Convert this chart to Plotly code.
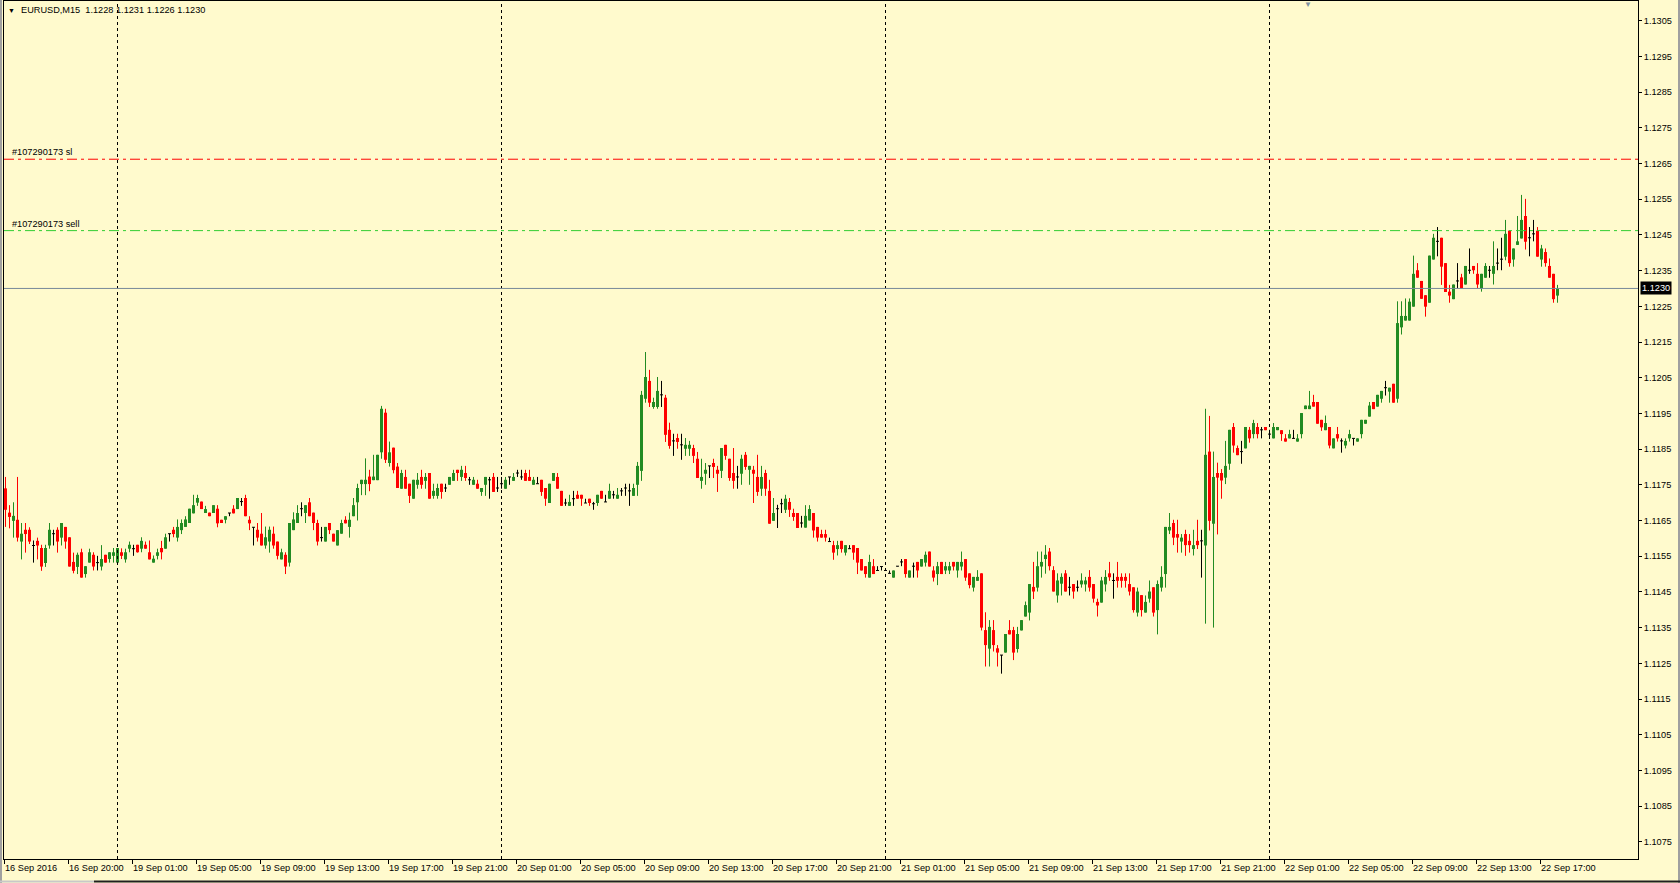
import plotly.graph_objects as go

# ---------------- data (EURUSD M15, one value per bar) ----------------
opens = [
1.11740,1.11672,1.11649,1.11652,1.11591,1.11624,1.11624,1.11580,1.11593,1.11573,
1.11531,1.11580,1.11613,1.11624,1.11602,1.11632,1.11603,1.11534,1.11520,1.11561,
1.11500,1.11532,1.11554,1.11532,1.11521,1.11554,1.11542,1.11551,1.11532,1.11561,
1.11541,1.11571,1.11571,1.11582,1.11571,1.11582,1.11561,1.11532,1.11551,1.11573,
1.11571,1.11613,1.11624,1.11602,1.11623,1.11632,1.11643,1.11670,1.11700,1.11703,
1.11671,1.11672,1.11671,1.11683,1.11652,1.11652,1.11671,1.11683,1.11682,1.11703,
1.11713,1.11652,1.11631,1.11624,1.11613,1.11580,1.11591,1.11613,1.11591,1.11541,
1.11554,1.11532,1.11623,1.11643,1.11683,1.11671,1.11701,1.11672,1.11643,1.11602,
1.11591,1.11643,1.11613,1.11580,1.11613,1.11652,1.11632,1.11662,1.11701,1.11752,
1.11752,1.11773,1.11763,1.11763,1.11841,1.11952,1.11811,1.11854,1.11801,1.11739,
1.11772,1.11753,1.11711,1.11750,1.11772,1.11761,1.11783,1.11719,1.11719,1.11753,
1.11741,1.11750,1.11761,1.11792,1.11772,1.11783,1.11764,1.11750,1.11753,1.11730,
1.11750,1.11764,1.11772,1.11741,1.11753,1.11739,1.11772,1.11761,1.11783,1.11772,
1.11783,1.11772,1.11750,1.11753,1.11764,1.11741,1.11699,1.11761,1.11772,1.11733,
1.11699,1.11691,1.11711,1.11722,1.11722,1.11699,1.11711,1.11697,1.11699,1.11733,
1.11702,1.11711,1.11722,1.11711,1.11733,1.11741,1.11733,1.11719,1.11750,1.11789,
1.11991,1.12041,1.11968,1.11968,1.12002,1.11994,1.11904,1.11873,1.11881,1.11862,
1.11851,1.11851,1.11853,1.11823,1.11761,1.11781,1.11803,1.11811,1.11792,1.11789,
1.11862,1.11823,1.11783,1.11772,1.11781,1.11834,1.11792,1.11792,1.11772,1.11739,
1.11783,1.11733,1.11649,1.11683,1.11697,1.11680,1.11702,1.11671,1.11671,1.11643,
1.11630,1.11650,1.11671,1.11632,1.11612,1.11612,1.11591,1.11581,1.11570,1.11593,
1.11560,1.11571,1.11581,1.11573,1.11542,1.11522,1.11490,1.11522,1.11510,1.11521,
1.11510,1.11502,1.11490,1.11522,1.11534,1.11542,1.11490,1.11522,1.11534,1.11521,
1.11532,1.11563,1.11510,1.11500,1.11534,1.11510,1.11510,1.11534,1.11510,1.11521,
1.11542,1.11502,1.11462,1.11481,1.11502,1.11343,1.11291,1.11343,1.11292,1.11273,
1.11280,1.11343,1.11343,1.11290,1.11342,1.11381,1.11392,1.11464,1.11462,1.11521,
1.11542,1.11563,1.11511,1.11440,1.11473,1.11502,1.11463,1.11472,1.11463,1.11471,
1.11471,1.11492,1.11472,1.11422,1.11420,1.11471,1.11502,1.11482,1.11492,1.11492,
1.11492,1.11472,1.11463,1.11392,1.11441,1.11392,1.11431,1.11463,1.11399,1.11462,
1.11500,1.11622,1.11643,1.11612,1.11591,1.11612,1.11593,1.11570,1.11593,1.11593,
1.11580,1.11843,1.11641,1.11783,1.11783,1.11770,1.11809,1.11912,1.11853,1.11843,
1.11852,1.11904,1.11892,1.11912,1.11904,1.11912,1.11892,1.11880,1.11903,1.11903,
1.11880,1.11880,1.11880,1.11871,1.11892,1.11962,1.11962,1.11982,1.11982,1.11932,
1.11903,1.11912,1.11852,1.11892,1.11873,1.11860,1.11880,1.11880,1.11871,1.11892,
1.11921,1.11941,1.11982,1.11969,1.11991,1.12022,1.12011,1.12033,1.11991,1.12191,
1.12210,1.12210,1.12249,1.12351,1.12321,1.12281,1.12260,1.12381,1.12432,1.12442,
1.12371,1.12291,1.12270,1.12321,1.12331,1.12311,1.12351,1.12363,1.12341,1.12301,
1.12330,1.12351,1.12341,1.12371,1.12382,1.12389,1.12462,1.12381,1.12422,1.12440,
1.12503,1.12442,1.12453,1.12462,1.12381,1.12402,1.12363,1.12341,1.12280,
]

highs = [
1.11772,1.11693,1.11701,1.11772,1.11643,1.11643,1.11631,1.11594,1.11602,1.11582,
1.11582,1.11643,1.11624,1.11631,1.11643,1.11632,1.11603,1.11560,1.11560,1.11571,
1.11522,1.11571,1.11561,1.11551,1.11581,1.11554,1.11561,1.11573,1.11573,1.11572,
1.11571,1.11591,1.11582,1.11582,1.11603,1.11591,1.11594,1.11552,1.11571,1.11593,
1.11613,1.11613,1.11632,1.11653,1.11653,1.11662,1.11683,1.11722,1.11722,1.11703,
1.11691,1.11672,1.11693,1.11693,1.11652,1.11662,1.11671,1.11693,1.11713,1.11713,
1.11722,1.11662,1.11631,1.11643,1.11671,1.11633,1.11633,1.11633,1.11591,1.11571,
1.11561,1.11643,1.11673,1.11693,1.11701,1.11693,1.11713,1.11672,1.11652,1.11632,
1.11632,1.11643,1.11613,1.11623,1.11652,1.11662,1.11672,1.11713,1.11753,1.11764,
1.11824,1.11792,1.11834,1.11834,1.11971,1.11963,1.11871,1.11854,1.11811,1.11792,
1.11792,1.11753,1.11764,1.11783,1.11792,1.11783,1.11783,1.11753,1.11753,1.11753,
1.11753,1.11772,1.11792,1.11792,1.11803,1.11803,1.11772,1.11772,1.11764,1.11741,
1.11772,1.11772,1.11783,1.11772,1.11772,1.11772,1.11772,1.11783,1.11792,1.11792,
1.11792,1.11792,1.11772,1.11772,1.11764,1.11741,1.11753,1.11783,1.11783,1.11733,
1.11711,1.11722,1.11733,1.11733,1.11722,1.11711,1.11711,1.11702,1.11722,1.11733,
1.11722,1.11753,1.11733,1.11741,1.11741,1.11753,1.11753,1.11753,1.11814,1.12013,
1.12122,1.12072,1.11994,1.12052,1.12041,1.12002,1.11924,1.11893,1.11893,1.11893,
1.11881,1.11873,1.11862,1.11842,1.11823,1.11811,1.11803,1.11823,1.11803,1.11853,
1.11862,1.11823,1.11853,1.11803,1.11834,1.11842,1.11803,1.11803,1.11834,1.11803,
1.11792,1.11764,1.11713,1.11694,1.11711,1.11722,1.11713,1.11683,1.11671,1.11663,
1.11693,1.11693,1.11671,1.11632,1.11624,1.11624,1.11602,1.11593,1.11593,1.11593,
1.11581,1.11581,1.11581,1.11573,1.11542,1.11522,1.11554,1.11542,1.11522,1.11521,
1.11510,1.11510,1.11510,1.11522,1.11542,1.11542,1.11510,1.11532,1.11534,1.11542,
1.11563,1.11563,1.11522,1.11534,1.11534,1.11534,1.11534,1.11534,1.11534,1.11563,
1.11542,1.11502,1.11492,1.11511,1.11502,1.11393,1.11371,1.11371,1.11301,1.11273,
1.11332,1.11371,1.11352,1.11352,1.11371,1.11423,1.11472,1.11534,1.11563,1.11563,
1.11581,1.11573,1.11522,1.11502,1.11502,1.11511,1.11492,1.11472,1.11482,1.11502,
1.11492,1.11511,1.11472,1.11431,1.11492,1.11511,1.11534,1.11502,1.11534,1.11502,
1.11502,1.11502,1.11463,1.11462,1.11441,1.11440,1.11482,1.11463,1.11482,1.11522,
1.11632,1.11671,1.11652,1.11652,1.11612,1.11624,1.11612,1.11624,1.11652,1.11624,
1.11963,1.11943,1.11843,1.11812,1.11794,1.11873,1.11904,1.11923,1.11860,1.11873,
1.11912,1.11912,1.11932,1.11923,1.11912,1.11912,1.11904,1.11923,1.11912,1.11903,
1.11892,1.11904,1.11904,1.11892,1.11951,1.11972,1.12013,1.12002,1.11982,1.11932,
1.11944,1.11912,1.11880,1.11912,1.11880,1.11880,1.11904,1.11880,1.11880,1.11932,
1.11932,1.11982,1.11982,1.12002,1.12013,1.12041,1.12022,1.12033,1.12264,1.12264,
1.12272,1.12272,1.12392,1.12371,1.12321,1.12281,1.12392,1.12453,1.12472,1.12442,
1.12371,1.12310,1.12311,1.12371,1.12341,1.12363,1.12412,1.12363,1.12371,1.12341,
1.12371,1.12363,1.12432,1.12412,1.12442,1.12492,1.12462,1.12412,1.12503,1.12562,
1.12551,1.12472,1.12492,1.12472,1.12422,1.12412,1.12384,1.12341,1.12310,
]

lows = [
1.11632,1.11628,1.11602,1.11591,1.11541,1.11560,1.11584,1.11532,1.11541,1.11509,
1.11520,1.11571,1.11580,1.11560,1.11580,1.11571,1.11521,1.11502,1.11500,1.11490,
1.11490,1.11532,1.11510,1.11510,1.11510,1.11532,1.11532,1.11532,1.11532,1.11542,
1.11532,1.11561,1.11551,1.11560,1.11561,1.11571,1.11541,1.11532,1.11541,1.11541,
1.11571,1.11591,1.11603,1.11591,1.11612,1.11632,1.11643,1.11670,1.11691,1.11682,
1.11671,1.11662,1.11671,1.11631,1.11643,1.11642,1.11662,1.11670,1.11682,1.11691,
1.11662,1.11623,1.11580,1.11591,1.11580,1.11571,1.11560,1.11571,1.11541,1.11541,
1.11500,1.11521,1.11623,1.11643,1.11662,1.11643,1.11662,1.11623,1.11580,1.11591,
1.11591,1.11612,1.11591,1.11580,1.11613,1.11642,1.11602,1.11662,1.11650,1.11721,
1.11721,1.11732,1.11763,1.11763,1.11823,1.11811,1.11801,1.11782,1.11741,1.11739,
1.11739,1.11699,1.11711,1.11739,1.11739,1.11739,1.11711,1.11711,1.11711,1.11711,
1.11730,1.11750,1.11761,1.11761,1.11761,1.11761,1.11750,1.11750,1.11739,1.11719,
1.11719,1.11711,1.11730,1.11730,1.11739,1.11739,1.11750,1.11761,1.11772,1.11764,
1.11761,1.11761,1.11750,1.11753,1.11719,1.11691,1.11699,1.11761,1.11739,1.11691,
1.11691,1.11691,1.11691,1.11711,1.11691,1.11699,1.11691,1.11680,1.11691,1.11711,
1.11702,1.11711,1.11711,1.11711,1.11719,1.11719,1.11691,1.11719,1.11719,1.11761,
1.11980,1.11968,1.11963,1.11963,1.11968,1.11870,1.11851,1.11831,1.11851,1.11820,
1.11831,1.11831,1.11811,1.11769,1.11739,1.11750,1.11769,1.11769,1.11730,1.11769,
1.11820,1.11761,1.11739,1.11739,1.11750,1.11792,1.11750,1.11699,1.11719,1.11719,
1.11719,1.11641,1.11649,1.11629,1.11671,1.11671,1.11660,1.11649,1.11629,1.11630,
1.11630,1.11650,1.11602,1.11591,1.11602,1.11591,1.11591,1.11540,1.11552,1.11560,
1.11552,1.11571,1.11540,1.11500,1.11510,1.11490,1.11490,1.11500,1.11510,1.11510,
1.11509,1.11502,1.11490,1.11521,1.11522,1.11490,1.11490,1.11490,1.11490,1.11521,
1.11521,1.11521,1.11479,1.11469,1.11500,1.11500,1.11500,1.11510,1.11490,1.11510,
1.11481,1.11460,1.11451,1.11481,1.11342,1.11241,1.11241,1.11283,1.11241,1.11221,
1.11280,1.11331,1.11259,1.11280,1.11342,1.11381,1.11370,1.11430,1.11451,1.11490,
1.11501,1.11510,1.11451,1.11420,1.11440,1.11451,1.11440,1.11431,1.11451,1.11462,
1.11451,1.11451,1.11420,1.11381,1.11420,1.11451,1.11481,1.11431,1.11462,1.11462,
1.11462,1.11440,1.11392,1.11381,1.11381,1.11392,1.11420,1.11381,1.11331,1.11451,
1.11462,1.11612,1.11581,1.11560,1.11560,1.11551,1.11560,1.11552,1.11570,1.11490,
1.11361,1.11622,1.11350,1.11611,1.11711,1.11752,1.11792,1.11840,1.11833,1.11809,
1.11852,1.11868,1.11880,1.11880,1.11880,1.11903,1.11880,1.11880,1.11903,1.11873,
1.11871,1.11880,1.11880,1.11871,1.11880,1.11962,1.11962,1.11969,1.11921,1.11901,
1.11903,1.11852,1.11852,1.11871,1.11840,1.11852,1.11871,1.11860,1.11871,1.11880,
1.11921,1.11941,1.11962,1.11969,1.11980,1.12000,1.11980,1.11980,1.11980,1.12171,
1.12210,1.12210,1.12249,1.12330,1.12271,1.12221,1.12260,1.12381,1.12390,1.12310,
1.12290,1.12260,1.12270,1.12301,1.12301,1.12311,1.12341,1.12341,1.12301,1.12291,
1.12330,1.12330,1.12311,1.12351,1.12351,1.12379,1.12361,1.12361,1.12422,1.12440,
1.12409,1.12390,1.12432,1.12389,1.12361,1.12361,1.12330,1.12260,1.12260,
]

closes = [
1.11680,1.11660,1.11663,1.11602,1.11613,1.11612,1.11591,1.11580,1.11580,1.11521,
1.11573,1.11624,1.11613,1.11591,1.11643,1.11591,1.11521,1.11509,1.11554,1.11490,
1.11522,1.11561,1.11521,1.11532,1.11542,1.11532,1.11561,1.11561,1.11573,1.11551,
1.11561,1.11582,1.11571,1.11561,1.11593,1.11571,1.11541,1.11543,1.11561,1.11561,
1.11603,1.11613,1.11612,1.11632,1.11643,1.11653,1.11683,1.11693,1.11713,1.11682,
1.11682,1.11662,1.11693,1.11642,1.11643,1.11662,1.11671,1.11670,1.11713,1.11703,
1.11662,1.11642,1.11631,1.11602,1.11580,1.11603,1.11624,1.11580,1.11551,1.11561,
1.11521,1.11643,1.11653,1.11671,1.11683,1.11693,1.11662,1.11643,1.11591,1.11602,
1.11632,1.11623,1.11591,1.11623,1.11643,1.11642,1.11652,1.11693,1.11741,1.11764,
1.11764,1.11752,1.11773,1.11834,1.11963,1.11820,1.11841,1.11791,1.11741,1.11783,
1.11739,1.11719,1.11764,1.11764,1.11750,1.11772,1.11711,1.11733,1.11741,1.11730,
1.11741,1.11772,1.11783,1.11783,1.11792,1.11769,1.11764,1.11764,1.11739,1.11741,
1.11772,1.11764,1.11730,1.11741,1.11753,1.11764,1.11772,1.11772,1.11783,1.11772,
1.11761,1.11761,1.11764,1.11753,1.11730,1.11711,1.11753,1.11783,1.11739,1.11691,
1.11699,1.11702,1.11711,1.11711,1.11711,1.11699,1.11699,1.11697,1.11722,1.11711,
1.11702,1.11733,1.11722,1.11722,1.11733,1.11741,1.11733,1.11741,1.11803,1.12002,
1.12052,1.11980,1.11982,1.12013,1.12002,1.11890,1.11859,1.11873,1.11870,1.11862,
1.11862,1.11862,1.11831,1.11769,1.11772,1.11792,1.11803,1.11800,1.11781,1.11853,
1.11831,1.11769,1.11761,1.11772,1.11823,1.11800,1.11803,1.11781,1.11730,1.11772,
1.11739,1.11641,1.11671,1.11683,1.11697,1.11711,1.11680,1.11660,1.11629,1.11643,
1.11663,1.11682,1.11622,1.11602,1.11602,1.11602,1.11591,1.11560,1.11581,1.11570,
1.11581,1.11571,1.11560,1.11532,1.11510,1.11500,1.11534,1.11500,1.11510,1.11521,
1.11510,1.11502,1.11510,1.11522,1.11534,1.11500,1.11510,1.11522,1.11510,1.11542,
1.11554,1.11521,1.11490,1.11522,1.11500,1.11522,1.11522,1.11521,1.11534,1.11534,
1.11490,1.11469,1.11492,1.11492,1.11350,1.11301,1.11352,1.11301,1.11280,1.11273,
1.11332,1.11331,1.11280,1.11332,1.11371,1.11413,1.11472,1.11451,1.11522,1.11534,
1.11554,1.11522,1.11451,1.11482,1.11492,1.11451,1.11463,1.11451,1.11463,1.11482,
1.11482,1.11462,1.11431,1.11412,1.11482,1.11492,1.11491,1.11482,1.11481,1.11481,
1.11481,1.11451,1.11399,1.11451,1.11399,1.11422,1.11451,1.11392,1.11472,1.11492,
1.11632,1.11632,1.11602,1.11602,1.11602,1.11581,1.11581,1.11581,1.11581,1.11593,
1.11834,1.11649,1.11772,1.11770,1.11762,1.11803,1.11904,1.11860,1.11833,1.11843,
1.11912,1.11880,1.11923,1.11892,1.11904,1.11903,1.11892,1.11912,1.11912,1.11892,
1.11871,1.11892,1.11880,1.11880,1.11951,1.11972,1.11972,1.11969,1.11921,1.11911,
1.11923,1.11860,1.11880,1.11880,1.11873,1.11873,1.11892,1.11880,1.11880,1.11932,
1.11932,1.11972,1.11962,1.12002,1.12013,1.12022,1.12022,1.11980,1.12203,1.12223,
1.12223,1.12263,1.12341,1.12330,1.12271,1.12249,1.12392,1.12442,1.12432,1.12361,
1.12290,1.12280,1.12311,1.12321,1.12301,1.12363,1.12351,1.12351,1.12311,1.12341,
1.12363,1.12351,1.12363,1.12371,1.12382,1.12453,1.12371,1.12412,1.12432,1.12492,
1.12431,1.12442,1.12453,1.12389,1.12412,1.12371,1.12330,1.12270,1.12300,
]

price_tick_labels = ["1.1075", "1.1085", "1.1095", "1.1105", "1.1115", "1.1125",
                     "1.1135", "1.1145", "1.1155", "1.1165", "1.1175", "1.1185",
                     "1.1195", "1.1205", "1.1215", "1.1225", "1.1235", "1.1245",
                     "1.1255", "1.1265", "1.1275", "1.1285", "1.1295", "1.1305"]

time_labels = ["16 Sep 2016", "16 Sep 20:00", "19 Sep 01:00", "19 Sep 05:00",
               "19 Sep 09:00", "19 Sep 13:00", "19 Sep 17:00", "19 Sep 21:00",
               "20 Sep 01:00", "20 Sep 05:00", "20 Sep 09:00", "20 Sep 13:00",
               "20 Sep 17:00", "20 Sep 21:00", "21 Sep 01:00", "21 Sep 05:00",
               "21 Sep 09:00", "21 Sep 13:00", "21 Sep 17:00", "21 Sep 21:00",
               "22 Sep 01:00", "22 Sep 05:00", "22 Sep 09:00", "22 Sep 13:00",
               "22 Sep 17:00"]
bars_per_label = 16
day_separator_bars = [28, 124, 220, 316]

sl_price = 1.12662
sell_price = 1.12462
bid_price = 1.1230
order_id = "#107290173"
header_text = "EURUSD,M15\u00a0\u00a01.1228 1.1231 1.1226 1.1230"

# ---------------- styles ----------------
BG = "#FFFACD"
UP = "#228B22"
DOWN = "#FF0000"
DOJI = "#000000"
FONT = "Liberation Sans"
FS = 9.2

W, H = 1680, 883
ML, MR, MT, MB = 4, 42, 1, 24
PX_PER_BAR = 4
plot_w = W - ML - MR
x0 = -0.375
x1 = x0 + plot_w / PX_PER_BAR
y_lo, y_hi = 1.107018, 1.131052

n = len(opens)
idx = list(range(n))

body_base, body_h, body_col = [], [], []
wx = {UP: [], DOWN: [], DOJI: []}
wy = {UP: [], DOWN: [], DOJI: []}
for i in idx:
    o, h, l, c = opens[i], highs[i], lows[i], closes[i]
    if c > o + 1e-9:
        col = UP
    elif c < o - 1e-9:
        col = DOWN
    else:
        col = DOJI
    body_base.append(min(o, c))
    body_h.append(abs(c - o))
    body_col.append(col)
    wx[col] += [i, i, None]
    wy[col] += [l, h, None]
    if col == DOJI:
        wx[col] += [i - 0.375, i + 0.375, None]
        wy[col] += [o, o, None]

fig = go.Figure()
fig.add_trace(go.Bar(x=idx, y=body_h, base=body_base, width=0.75,
                     marker=dict(color=body_col, line=dict(width=0)),
                     hoverinfo="skip", showlegend=False))
for col in (UP, DOWN, DOJI):
    fig.add_trace(go.Scatter(x=wx[col], y=wy[col], mode="lines",
                             line=dict(color=col, width=1),
                             hoverinfo="skip", showlegend=False,
                             connectgaps=False))

plot_h = H - MT - MB
def px_to_paper_x(px):
    return (px - ML) / plot_w

def px_to_paper_y(py):
    return 1 - (py - MT) / plot_h

shapes = []
for b in day_separator_bars:
    shapes.append(dict(type="line", xref="x", yref="paper", x0=b, x1=b, y0=0, y1=1,
                       line=dict(color="black", width=1, dash="3px,3px"), layer="above"))
shapes.append(dict(type="line", xref="paper", yref="y", x0=0, x1=1, y0=sl_price, y1=sl_price,
                   line=dict(color="#FF0000", width=1, dash="10px,4px,3px,4px"), layer="above"))
shapes.append(dict(type="line", xref="paper", yref="y", x0=0, x1=1, y0=sell_price, y1=sell_price,
                   line=dict(color="#32CD32", width=1, dash="10px,4px,3px,4px"), layer="above"))
shapes.append(dict(type="line", xref="paper", yref="y", x0=0, x1=1, y0=bid_price, y1=bid_price,
                   line=dict(color="#778899", width=1), layer="above"))
# window frame around the chart
shapes.append(dict(type="line", xref="paper", yref="paper",
                   x0=px_to_paper_x(1), x1=px_to_paper_x(1),
                   y0=px_to_paper_y(0), y1=px_to_paper_y(H),
                   line=dict(color="#A0A0A0", width=2), layer="above"))
shapes.append(dict(type="line", xref="paper", yref="paper",
                   x0=px_to_paper_x(1679), x1=px_to_paper_x(1679),
                   y0=px_to_paper_y(0), y1=px_to_paper_y(H),
                   line=dict(color="#A0A0A0", width=2), layer="above"))
shapes.append(dict(type="line", xref="paper", yref="paper",
                   x0=px_to_paper_x(0), x1=px_to_paper_x(94),
                   y0=px_to_paper_y(881.5), y1=px_to_paper_y(881.5),
                   line=dict(color="#C8C8C8", width=2), layer="above"))
shapes.append(dict(type="line", xref="paper", yref="paper",
                   x0=px_to_paper_x(94), x1=px_to_paper_x(W),
                   y0=px_to_paper_y(881.5), y1=px_to_paper_y(881.5),
                   line=dict(color="#202020", width=2), layer="above"))

font = dict(family=FONT, size=FS, color="black")
annotations = [
    dict(text="\u25BC", xref="paper", yref="paper", x=px_to_paper_x(11), y=px_to_paper_y(10),
         xanchor="center", yanchor="middle", showarrow=False,
         font=dict(family=FONT, size=7, color="black")),
    dict(text=header_text, xref="paper", yref="paper", x=px_to_paper_x(19), y=px_to_paper_y(10),
         xanchor="left", yanchor="middle", showarrow=False, font=font),
    dict(text=order_id + " sl", xref="paper", yref="y", x=px_to_paper_x(10), y=sl_price,
         xanchor="left", yanchor="bottom", showarrow=False, font=font, yshift=0),
    dict(text=order_id + " sell", xref="paper", yref="y", x=px_to_paper_x(10), y=sell_price,
         xanchor="left", yanchor="bottom", showarrow=False, font=font, yshift=0),
    dict(text=f"{bid_price:.4f}", xref="paper", yref="y", x=1, y=bid_price, xshift=2,
         xanchor="left", yanchor="middle", showarrow=False, bgcolor="black", borderpad=1,
         font=dict(family=FONT, size=FS, color="white")),
    dict(text="\u25BC", xref="paper", yref="paper", x=px_to_paper_x(1308), y=1.004,
         xanchor="center", yanchor="top", showarrow=False,
         font=dict(family=FONT, size=8, color="#8090A0")),
]

tick_bars = [k * bars_per_label - 0.375 for k in range(len(time_labels))]

fig.update_layout(
    width=W, height=H,
    margin=dict(l=ML, r=MR, t=MT, b=MB, pad=0),
    paper_bgcolor=BG, plot_bgcolor=BG,
    showlegend=False, hovermode=False, barmode="overlay",
    shapes=shapes, annotations=annotations,
    xaxis=dict(range=[x0, x1], showgrid=False, zeroline=False,
               showline=True, linecolor="black", linewidth=1, mirror=True,
               ticks="outside", ticklen=4, tickcolor="black", tickwidth=1,
               tickmode="array", tickvals=tick_bars, ticktext=time_labels,
               ticklabelposition="outside right",
               tickfont=font),
    yaxis=dict(range=[y_lo, y_hi], side="right", showgrid=False, zeroline=False,
               showline=True, linecolor="black", linewidth=1, mirror=True,
               ticks="outside", ticklen=3, tickcolor="black", tickwidth=1,
               tickmode="array", tickvals=[float(t) for t in price_tick_labels],
               ticktext=price_tick_labels, tickfont=font),
)

fig.write_html("out.html",
               config={"displayModeBar": False, "staticPlot": True},
               post_script="document.body.style.margin='0px';document.body.style.overflow='hidden';")
